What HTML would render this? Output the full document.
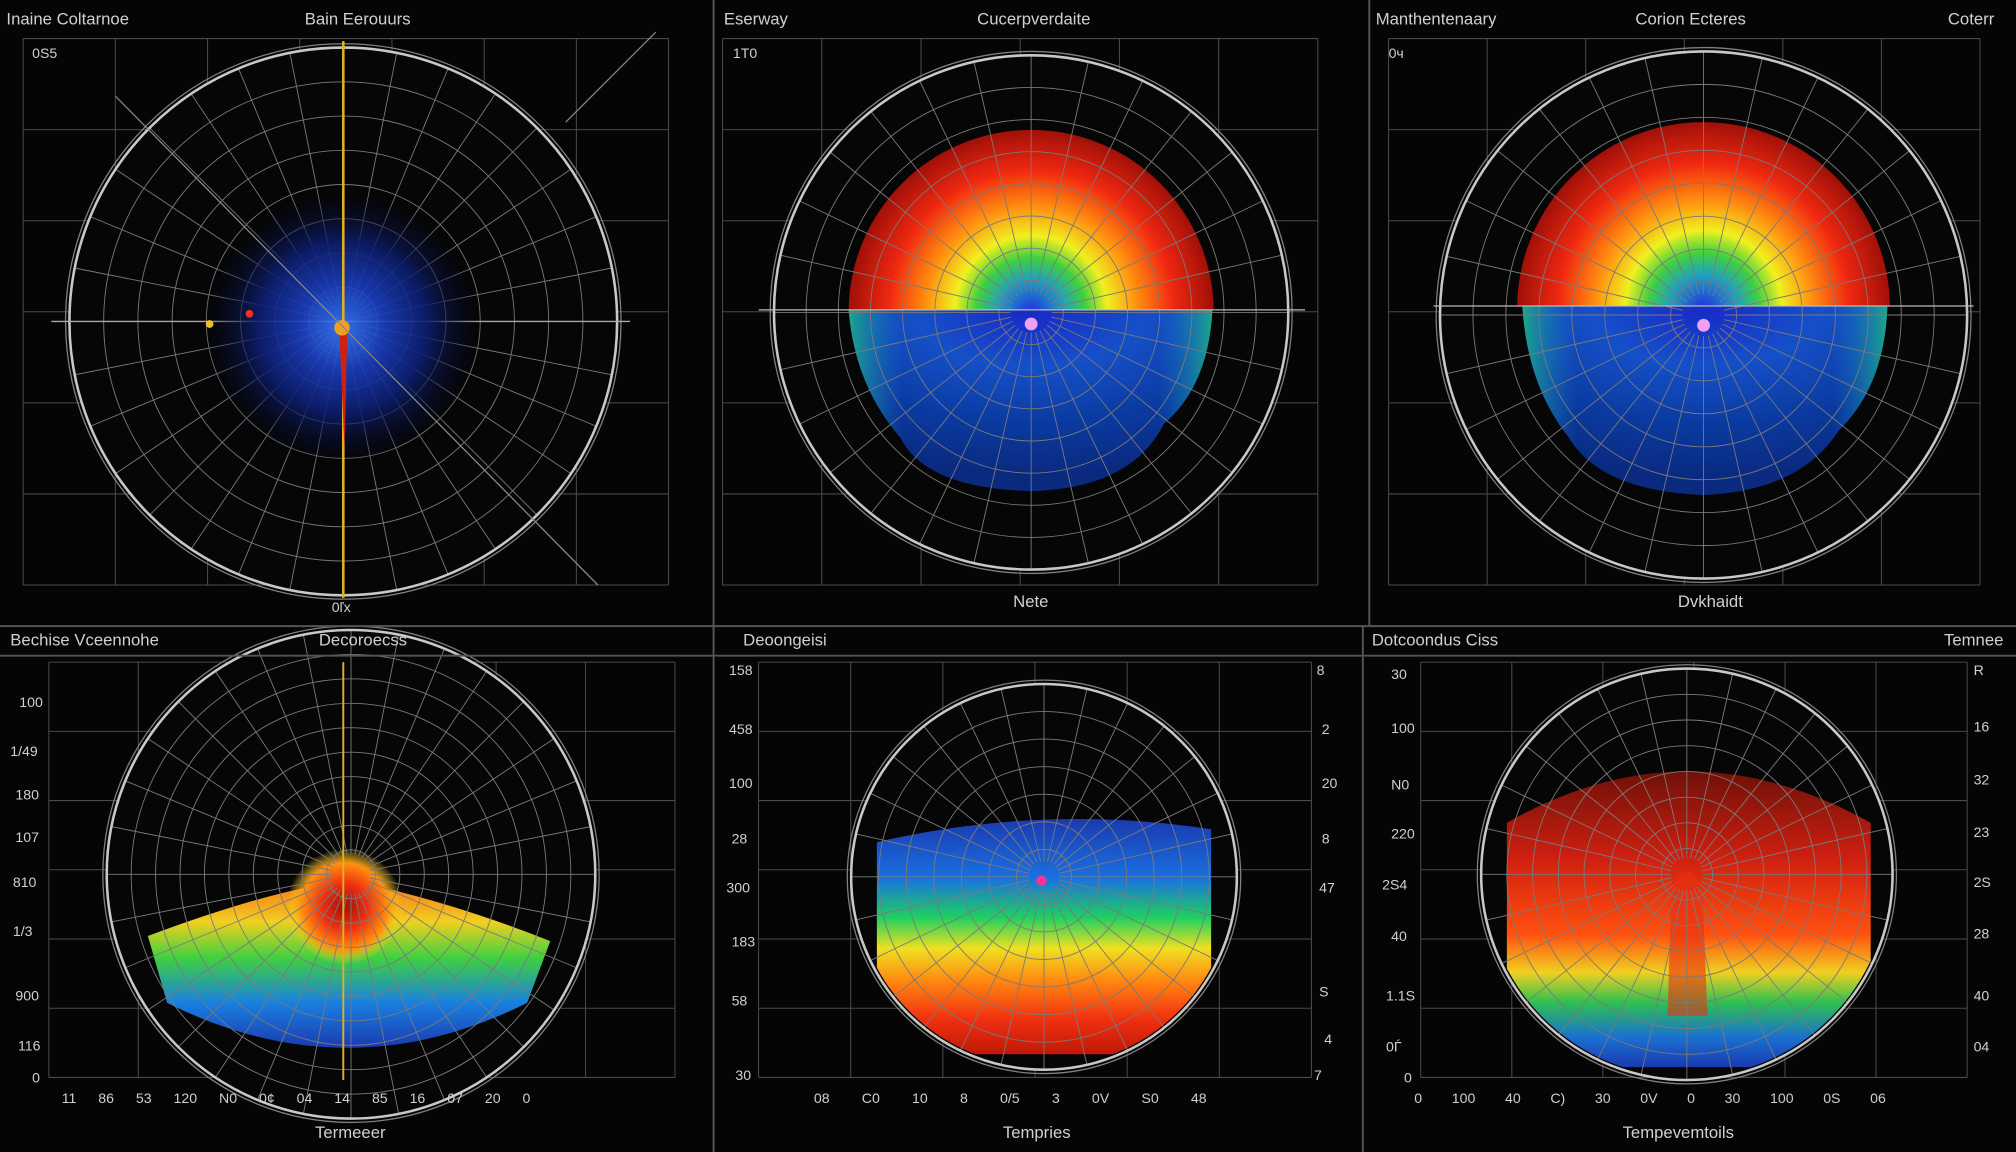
<!DOCTYPE html>
<html><head><meta charset="utf-8">
<style>
html,body{margin:0;padding:0;background:#050505;}
svg{display:block;}
text{font-family:"Liberation Sans",sans-serif;fill:#d0d0d0;}
</style></head>
<body>
<svg id="s" width="2016" height="1152" viewBox="0 0 1568 896" preserveAspectRatio="none" xmlns="http://www.w3.org/2000/svg">
<defs>
<radialGradient id="blueglow" cx="0.5" cy="0.5" r="0.5">
<stop offset="0" stop-color="#3a7cff"/><stop offset="0.3" stop-color="#1a3fc0"/><stop offset="0.6" stop-color="#0c1e70"/><stop offset="1" stop-color="#050510" stop-opacity="0"/>
</radialGradient>
<radialGradient id="bluehalf" cx="0.5" cy="0" r="0.9">
<stop offset="0" stop-color="#1828c8"/><stop offset="0.35" stop-color="#1550c8"/><stop offset="0.7" stop-color="#0a3aa0"/><stop offset="1" stop-color="#0a2a80"/>
</radialGradient>
<linearGradient id="sidecyan" x1="0" y1="0" x2="1" y2="0">
<stop offset="0" stop-color="#20c080" stop-opacity="0.8"/><stop offset="0.15" stop-color="#1a80d0" stop-opacity="0"/><stop offset="0.85" stop-color="#1a80d0" stop-opacity="0"/><stop offset="1" stop-color="#20c080" stop-opacity="0.8"/>
</linearGradient>
<linearGradient id="band5" x1="0" y1="0" x2="0" y2="1">
<stop offset="0" stop-color="#1a3ab0"/><stop offset="0.25" stop-color="#1a70e0"/><stop offset="0.42" stop-color="#20d060"/><stop offset="0.55" stop-color="#f0e020"/><stop offset="0.7" stop-color="#ff8010"/><stop offset="0.85" stop-color="#f03010"/><stop offset="1" stop-color="#c01808"/>
</linearGradient>
<linearGradient id="band6" x1="0" y1="0" x2="0" y2="1">
<stop offset="0" stop-color="#701008"/><stop offset="0.3" stop-color="#d02010"/><stop offset="0.55" stop-color="#ff5010"/><stop offset="0.68" stop-color="#f0d020"/><stop offset="0.78" stop-color="#30c050"/><stop offset="0.9" stop-color="#1a70d0"/><stop offset="1" stop-color="#1a3ab0"/>
</linearGradient>
<linearGradient id="band4" x1="0" y1="0" x2="0" y2="1">
<stop offset="0" stop-color="#ff5010"/><stop offset="0.3" stop-color="#f0d020"/><stop offset="0.5" stop-color="#40d040"/><stop offset="0.75" stop-color="#1a80e0"/><stop offset="1" stop-color="#1a3ab0"/>
</linearGradient>
<radialGradient id="redblob" cx="0.5" cy="0.5" r="0.5">
<stop offset="0" stop-color="#a01008"/><stop offset="0.4" stop-color="#f03010"/><stop offset="0.75" stop-color="#ff9010"/><stop offset="1" stop-color="#f0e020" stop-opacity="0"/>
</radialGradient>
<clipPath id="c2t"><rect x="600" y="40" width="400" height="201"/></clipPath>
<clipPath id="c3t"><rect x="1120" y="40" width="410" height="198"/></clipPath>
<clipPath id="c4"><circle cx="273" cy="680" r="188"/></clipPath>
<clipPath id="c5"><circle cx="812" cy="682" r="148"/></clipPath>
<clipPath id="c6"><circle cx="1312" cy="680" r="158"/></clipPath>
</defs>
<g id="grids" stroke="#555" stroke-width="0.8" fill="none"></g>
<!-- panel 2 heat -->
<g clip-path="url(#c2t)"><circle cx="802" cy="243" r="142" fill="url(#topheatp2)"/></g>
<path d="M660,241 L943,241 Q940,300 905,330 Q880,380 802,382 Q720,380 700,340 Q665,300 660,241 Z" fill="url(#bluehalf)"/>
<path d="M660,241 L943,241 Q940,300 905,330 Q880,380 802,382 Q720,380 700,340 Q665,300 660,241 Z" fill="url(#sidecyan)"/>
<!-- panel 3 heat -->
<g clip-path="url(#c3t)"><circle cx="1325" cy="240" r="145" fill="url(#topheatp3)"/></g>
<path d="M1184,238 L1468,238 Q1466,300 1430,335 Q1400,382 1325,385 Q1245,382 1220,340 Q1188,300 1184,238 Z" fill="url(#bluehalf)"/>
<path d="M1184,238 L1468,238 Q1466,300 1430,335 Q1400,382 1325,385 Q1245,382 1220,340 Q1188,300 1184,238 Z" fill="url(#sidecyan)"/>
<g clip-path="url(#c4)">
<path d="M115,728 Q190,700 240,690 Q268,660 296,690 Q360,705 428,732 L410,780 Q270,850 130,780 Z" fill="url(#band4)"/>
<ellipse cx="268" cy="705" rx="45" ry="45" fill="url(#redblob)"/>
</g>
<g clip-path="url(#c5)">
<path d="M682,655 Q812,625 942,645 L942,820 L682,820 Z" fill="url(#band5)"/>
</g>
<g clip-path="url(#c6)">
<path d="M1172,640 Q1312,560 1455,640 L1455,830 L1172,830 Z" fill="url(#band6)"/>
<path d="M1300,690 Q1312,665 1324,690 L1328,790 L1297,790 Z" fill="#e83010" opacity="0.6"/>
</g>
<g id="over" stroke="#a0a0a0" fill="none"></g>
<!-- panel 1 extras -->
<circle cx="266" cy="255" r="110" fill="url(#blueglow)" opacity="0.9"/>
<line x1="267" y1="32" x2="267" y2="465" stroke="#e0b020" stroke-width="2"/>
<path d="M264,260 L270,260 L268,350 Z" fill="#d02010"/>
<circle cx="266" cy="255" r="6" fill="#f0a020"/>
<circle cx="163" cy="252" r="3" fill="#f0c020"/>
<circle cx="194" cy="244" r="3" fill="#f03020"/>
<line x1="267" y1="515" x2="267" y2="840" stroke="#e0b020" stroke-width="1.5"/>
<circle cx="802" cy="252" r="5" fill="#f0a0f0"/>
<circle cx="1325" cy="253" r="5" fill="#f0a0f0"/>
<circle cx="810" cy="685" r="4" fill="#ff3090"/>
<line x1="90" y1="75" x2="465" y2="455" stroke="#888" stroke-width="1"/>
<line x1="510" y1="25" x2="440" y2="95" stroke="#888" stroke-width="1"/>
<!-- dividers -->
<g stroke="#555" stroke-width="1.5">
<line x1="555" y1="0" x2="555" y2="896"/><line x1="1065" y1="0" x2="1065" y2="487"/><line x1="1060" y1="487" x2="1060" y2="896"/>
<line x1="0" y1="487" x2="1568" y2="487"/><line x1="0" y1="510" x2="1568" y2="510"/>
</g>
<!-- texts -->
<g font-size="13">
<text x="5" y="19">Inaine Coltarnoe</text><text x="237" y="19">Bain Eerouurs</text>
<text x="563" y="19">Eserway</text><text x="760" y="19">Cucerpverdaite</text>
<text x="1070" y="19">Manthentenaary</text><text x="1272" y="19">Corion Ecteres</text><text x="1515" y="19">Coterr</text>
<text x="8" y="502">Bechise Vceennohe</text><text x="248" y="502">Decoroecss</text>
<text x="578" y="502">Deoongeisi</text><text x="1067" y="502">Dotcoondus Ciss</text><text x="1512" y="502">Temnee</text>
<text x="245" y="885">Termeeer</text><text x="780" y="885">Tempries</text><text x="1262" y="885">Tempevemtoils</text>
<text x="788" y="472">Nete</text><text x="1305" y="472">Dvkhaidt</text><text x="258" y="476" font-size="11">0ľx</text>
</g>
<g font-size="11">
<text x="25" y="45">0S5</text><text x="570" y="45">1Т0</text><text x="1080" y="45">0ч</text>
<text x="15" y="550">100</text><text x="8" y="588">1/49</text><text x="12" y="622">180</text><text x="12" y="655">107</text><text x="10" y="690">810</text><text x="10" y="728">1/3</text><text x="12" y="778">900</text><text x="14" y="817">116</text><text x="25" y="842">0</text>
<text x="567" y="525">158</text><text x="567" y="571">458</text><text x="567" y="613">100</text><text x="569" y="656">28</text><text x="565" y="694">300</text><text x="569" y="736">183</text><text x="569" y="782">58</text><text x="572" y="840">30</text>
<text x="1024" y="525">8</text><text x="1028" y="571">2</text><text x="1028" y="613">20</text><text x="1028" y="656">8</text><text x="1026" y="694">47</text><text x="1026" y="775">S</text><text x="1030" y="812">4</text><text x="1022" y="840">7</text>
<text x="1082" y="528">30</text><text x="1082" y="570">100</text><text x="1082" y="614">N0</text><text x="1082" y="652">220</text><text x="1075" y="692">2S4</text><text x="1082" y="732">40</text><text x="1078" y="778">1.1S</text><text x="1078" y="818">0Ѓ</text><text x="1092" y="842">0</text>
<text x="1535" y="525">R</text><text x="1535" y="569">16</text><text x="1535" y="610">32</text><text x="1535" y="651">23</text><text x="1535" y="690">2S</text><text x="1535" y="730">28</text><text x="1535" y="778">40</text><text x="1535" y="818">04</text>
<text x="48" y="858" word-spacing="14">11 86 53 120 N0 0¢ 04 14 85 16 07 20 0</text>
<text x="633" y="858" word-spacing="22">08 C0 10 8 0/5 3 0V S0 48</text>
<text x="1100" y="858" word-spacing="20">0 100 40 C) 30 0V 0 30 100 0S 06</text>
</g>
</svg>
<script>
(function(){
var NS="http://www.w3.org/2000/svg";var s=document.getElementById('s');
var defs=s.querySelector('defs');
function heat(id,cx,cy,r){var g=document.createElementNS(NS,'radialGradient');g.setAttribute('id',id);g.setAttribute('gradientUnits','userSpaceOnUse');g.setAttribute('cx',cx);g.setAttribute('cy',cy);g.setAttribute('r',r);
[[0,'#2030e0'],[0.18,'#20a0c0'],[0.3,'#40d040'],[0.42,'#f0f020'],[0.58,'#ff9010'],[0.78,'#f02810'],[1,'#a01008']].forEach(function(a){var st=document.createElementNS(NS,'stop');st.setAttribute('offset',a[0]);st.setAttribute('stop-color',a[1]);g.appendChild(st);});defs.appendChild(g);}
heat('topheatp2',802,243,142);heat('topheatp3',1325,240,145);
var gr=document.getElementById('grids');var ov=document.getElementById('over');
function el(p,t,a){var e=document.createElementNS(NS,t);for(var k in a)e.setAttribute(k,a[k]);p.appendChild(e);return e;}
function rect(x0,y0,x1,y1,nx,ny){for(var i=0;i<=nx;i++){var x=x0+(x1-x0)*i/nx;el(gr,'line',{x1:x,y1:y0,x2:x,y2:y1,stroke:'#4a4a4a'});}
for(var j=0;j<=ny;j++){var y=y0+(y1-y0)*j/ny;el(gr,'line',{x1:x0,y1:y,x2:x1,y2:y,stroke:'#4a4a4a'});}}
rect(18,30,520,455,7,6);rect(562,30,1025,455,6,6);rect(1080,30,1540,455,6,6);
rect(38,515,525,838,7,6);rect(590,515,1020,838,6,6);rect(1105,515,1530,838,6,6);
[[267,250,213],[802,243,200],[1325,245,205],[273,680,190],[812,682,150],[1312,680,160]].forEach(function(c){el(gr,'circle',{cx:c[0],cy:c[1],r:c[2],fill:'#060606',stroke:'none'});});
function polar(cx,cy,r,nr,na){var o=el(ov,'g',{stroke:'#7a7a7a','stroke-width':'0.7',fill:'none'});
for(var i=1;i<=nr;i++)el(o,'circle',{cx:cx,cy:cy,r:r*i/nr});
for(var k=0;k<na;k++){var a=k*Math.PI*2/na;el(o,'line',{x1:cx+r*0.08*Math.cos(a),y1:cy+r*0.08*Math.sin(a),x2:cx+r*Math.cos(a),y2:cy+r*Math.sin(a)});}
el(ov,'circle',{cx:cx,cy:cy,r:r,stroke:'#c8c8c8','stroke-width':'2',fill:'none'});
el(ov,'circle',{cx:cx,cy:cy,r:r+3,stroke:'#808080','stroke-width':'1',fill:'none'});}
polar(267,250,213,8,32);polar(802,243,200,8,28);polar(1325,245,205,8,28);
polar(273,680,190,10,32);polar(812,682,150,7,28);polar(1312,680,160,8,28);
el(ov,'line',{x1:590,y1:241,x2:1015,y2:241,stroke:'#bbb'});
el(ov,'line',{x1:1115,y1:238,x2:1535,y2:238,stroke:'#bbb'});
el(ov,'line',{x1:40,y1:250,x2:490,y2:250,stroke:'#aaa'});
})();
</script>
</body></html>
